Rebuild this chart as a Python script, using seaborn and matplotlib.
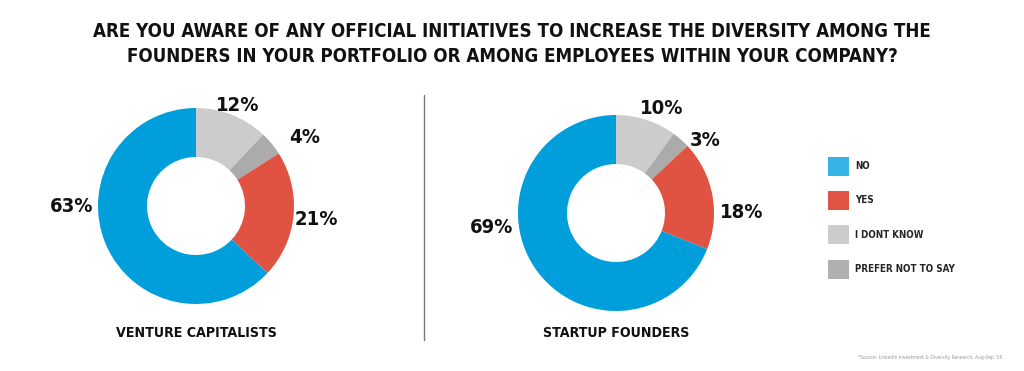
import numpy as np
import matplotlib
matplotlib.use("Agg")
import matplotlib.pyplot as plt
import matplotlib.patches as mpatches
import seaborn as sns

# data
categories = ["NO", "YES", "I DONT KNOW", "PREFER NOT TO SAY"]
vc_values = [63, 21, 12, 4]
sf_values = [69, 18, 10, 3]
group_titles = ["VENTURE CAPITALISTS", "STARTUP FOUNDERS"]

title = ("ARE YOU AWARE OF ANY OFFICIAL INITIATIVES TO INCREASE THE DIVERSITY AMONG THE\n"
         "FOUNDERS IN YOUR PORTFOLIO OR AMONG EMPLOYEES WITHIN YOUR COMPANY?")
source = "*Source: LinkedIn Investment & Diversity Research, Aug-Sep '16"

pie_colors = {"NO": "#009fdb", "YES": "#e05343", "I DONT KNOW": "#cccccc", "PREFER NOT TO SAY": "#ababab"}
legend_colors = {"NO": "#36b4e5", "YES": "#e05345", "I DONT KNOW": "#cccccc", "PREFER NOT TO SAY": "#b0b0b0"}

# clockwise order from 12 o'clock
draw_order = ["I DONT KNOW", "PREFER NOT TO SAY", "YES", "NO"]

sns.set_theme(style="white")
plt.rcParams['font.family'] = ['DejaVu Sans']
plt.rcParams['font.stretch'] = 'condensed'

W, H = 1024, 371
fig = plt.figure(figsize=(W / 100, H / 100), dpi=100)


def px_axes(cx, cy, r):
    return fig.add_axes([(cx - r) / W, (H - cy - r) / H, 2 * r / W, 2 * r / H])


# label offsets (in radius units) for each category, per chart
label_pos = [
    {"I DONT KNOW": (0.43, 1.03), "PREFER NOT TO SAY": (1.11, 0.70), "YES": (1.23, -0.14), "NO": (-1.27, -0.01)},
    {"I DONT KNOW": (0.47, 1.07), "PREFER NOT TO SAY": (0.91, 0.74), "YES": (1.28, 0.00), "NO": (-1.27, -0.15)},
]
centers = [(196, 206), (616, 213)]

for i, vals in enumerate([vc_values, sf_values]):
    d = dict(zip(categories, vals))
    cx, cy = centers[i]
    ax = px_axes(cx, cy, 98)
    ax.pie([d[c] for c in draw_order], colors=[pie_colors[c] for c in draw_order],
           startangle=90, counterclock=False, radius=1,
           wedgeprops=dict(width=0.5, edgecolor="none"))
    ax.set_xlim(-1, 1)
    ax.set_ylim(-1, 1)
    ax.set_aspect("equal")
    ax.axis("off")
    for c in draw_order:
        x, y = label_pos[i][c]
        ax.text(x, y, f"{d[c]}%", ha="center", va="center", fontsize=14.5,
                fontweight="bold", color="#111111")
    fig.text(cx / W, 1 - 333 / H, group_titles[i], ha="center", va="center",
             fontsize=10.2, fontweight="bold", color="#111111")

# divider
fig.add_artist(plt.Line2D([424 / W, 424 / W], [1 - 95 / H, 1 - 340 / H], color="#7a7a7a", lw=1))

fig.text(0.5, 1 - 44 / H, title, ha="center", va="center", fontsize=13.4,
         fontweight="bold", color="#111111", linespacing=1.42)

handles = [mpatches.Patch(facecolor=legend_colors[c], edgecolor="none") for c in categories]
fig.legend(handles, categories, loc="upper left", bbox_to_anchor=(819 / W, 1 - 148 / H),
           frameon=False, handlelength=2.2, handleheight=2.6,
           labelspacing=1.6, handletextpad=0.6,
           prop=dict(weight="bold", size=7, stretch="condensed"))

fig.text(1002 / W, 1 - 358 / H, source, ha="right", va="center", fontsize=3.6, color="#999999")

fig.savefig("out.png", dpi=100, facecolor="white")
